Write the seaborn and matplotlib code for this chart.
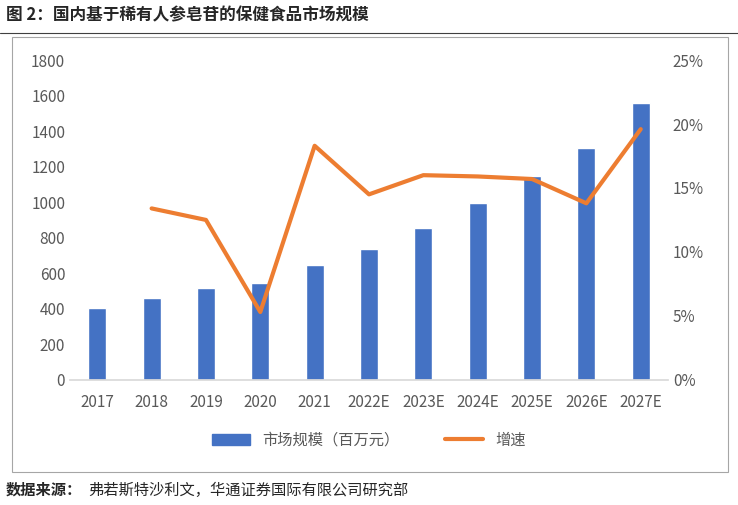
import matplotlib
matplotlib.use("Agg")
import matplotlib.pyplot as plt
import seaborn as sns
import pandas as pd
from matplotlib.patches import Rectangle
from matplotlib.lines import Line2D
from matplotlib.ticker import FuncFormatter

years = ["2017","2018","2019","2020","2021","2022E","2023E","2024E","2025E","2026E","2027E"]
market = [405, 460, 515, 545, 645, 738, 857, 993, 1147, 1305, 1557]
growth = [None, 13.4, 12.5, 5.3, 18.3, 14.5, 16.0, 15.9, 15.7, 13.8, 19.6]

sns.set_theme(style="white")
plt.rcParams['font.family'] = ['Noto Sans CJK SC', 'DejaVu Sans']

fig = plt.figure(figsize=(7.38, 5.05), dpi=100)
ax = fig.add_axes([0.095, 0.248, 0.81, 0.633])
df = pd.DataFrame({"year": years, "market": market, "growth": growth})
sns.barplot(data=df, x="year", y="market", color="#4472C4", width=0.33, ax=ax, saturation=1)
ax.set_ylim(0, 1800)
ax.set_yticks(range(0, 1801, 200))
ax.set_xlabel(""); ax.set_ylabel("")
ax2 = ax.twinx()
sns.lineplot(x=list(range(1, 11)), y=growth[1:], color="#ED7D31", linewidth=3, ax=ax2)
ax2.set_ylim(0, 25)
ax2.set_yticks(range(0, 26, 5))
ax2.yaxis.set_major_formatter(FuncFormatter(lambda v, p: f"{int(v)}%"))
ax.set_xlim(-0.5, 10.5)
for a in (ax, ax2):
    for s in a.spines.values():
        s.set_visible(False)
    a.tick_params(length=0, labelsize=11, colors="#595959")
ax.spines['bottom'].set_visible(True)
ax.spines['bottom'].set_color("#D9D9D9")
ax.tick_params(axis='x', pad=10)

fig.patches.append(Rectangle((12/738, 1-472/505), 716/738, 435/505, transform=fig.transFigure,
                             fill=False, edgecolor="#A6A6A6", linewidth=0.8))
fig.add_artist(Line2D([0, 1], [1-33/505]*2, transform=fig.transFigure, color="#404040", lw=0.8))
fig.text(0.008, 1-15/505, "图 2：国内基于稀有人参皂苷的保健食品市场规模", fontsize=12, fontweight='bold', va='center')
fig.text(0.008, 1-490/505, "数据来源：", fontsize=11, fontweight='bold', va='center')
fig.text(0.008 + 82/738, 1-490/505, "弗若斯特沙利文，华通证券国际有限公司研究部", fontsize=11, va='center')

handles = [Rectangle((0, 0), 1, 1, color="#4472C4"), Line2D([], [], color="#ED7D31", lw=3)]
fig.legend(handles, ["市场规模（百万元）", "增速"], loc='center', bbox_to_anchor=(0.5, 1-440/505),
           ncol=2, frameon=False, fontsize=11, labelcolor="#595959", columnspacing=3, handlelength=2.5)
fig.savefig("out.png", dpi=100)
